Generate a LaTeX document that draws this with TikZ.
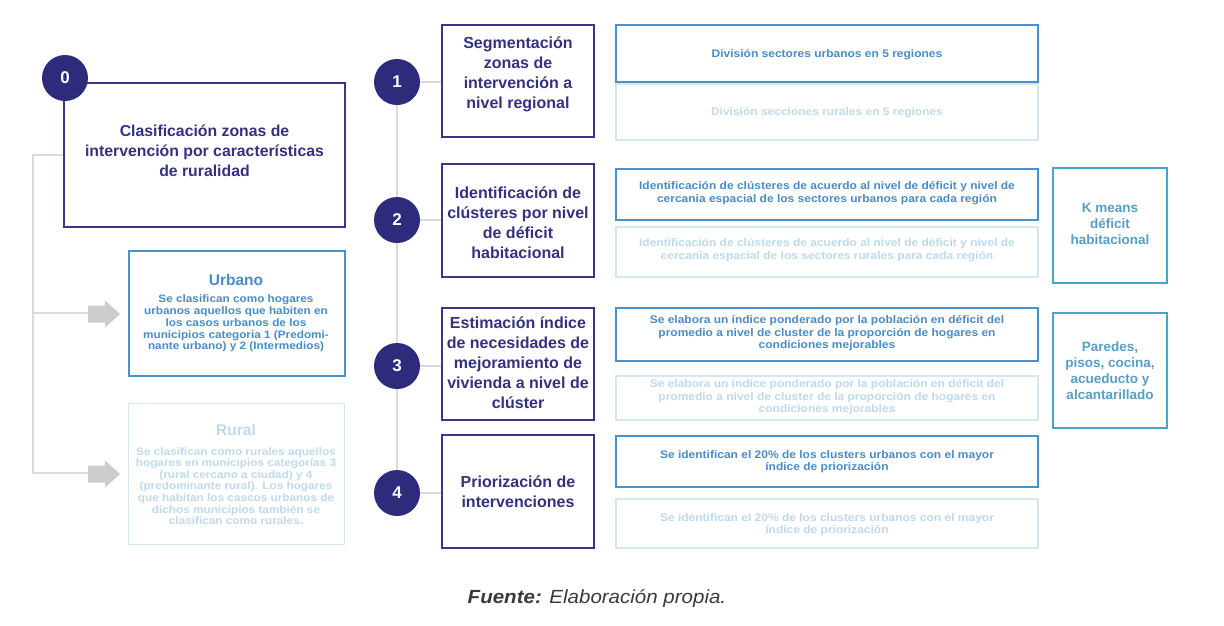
\documentclass[tikz,border=0pt]{standalone}
\usepackage{fontspec}
\setmainfont{Liberation Sans}
\newfontfamily\widefont[FakeStretch=1.09]{Liberation Sans}
\newfontfamily\capfont[FakeStretch=1.08]{Liberation Sans}
\usetikzlibrary{backgrounds}
\definecolor{navy}{HTML}{2E2B7D}
\definecolor{navyline}{HTML}{3A3787}
\definecolor{navytext}{HTML}{34317F}
\definecolor{gline}{HTML}{DADADA}
\definecolor{garrow}{HTML}{CCCCCC}
\definecolor{ublue}{HTML}{4A90CA}
\definecolor{utext}{HTML}{4A8CC6}
\definecolor{cbox}{HTML}{46A3CC}
\definecolor{ctext}{HTML}{5A9DC4}
\definecolor{lbox}{HTML}{D4E7F4}
\definecolor{ltext}{HTML}{BFD9EC}
\definecolor{captext}{HTML}{3A3A3A}
\begin{document}
\begin{tikzpicture}[x=1pt,y=-1pt,
  stepbox/.style={draw=navyline, line width=2.5pt, inner sep=0pt, minimum width=152, minimum height=112},
  steptext/.style={text=navytext, align=center, inner sep=0pt, font=\fontsize{16}{20}\selectfont\bfseries},
  numcirc/.style={circle, fill=navy, text=white, inner sep=0pt, minimum size=46, font=\fontsize{17}{20}\selectfont\bfseries},
  ubox/.style={draw=ublue, line width=2pt, inner sep=0pt, minimum width=422},
  lightbox/.style={draw=lbox, line width=1.6pt, inner sep=0pt, minimum width=422},
  utxt/.style={text=utext, align=center, inner sep=0pt, font=\widefont\fontsize{11}{13}\selectfont\bfseries},
  ltxt/.style={text=ltext, align=center, inner sep=0pt, font=\widefont\fontsize{11}{13}\selectfont\bfseries},
  sidebox/.style={draw=cbox, line width=2pt, inner sep=0pt, minimum width=114, minimum height=115},
  sidetxt/.style={text=ctext, align=center, inner sep=0pt, font=\fontsize{13.5}{16}\selectfont\bfseries},
  gconn/.style={draw=gline, line width=2pt}
]
\path[use as bounding box] (0,0) rectangle (1224,625);

% ---- step 0 ----
\node[draw=navyline, line width=2.5pt, inner sep=0pt, minimum width=281, minimum height=144] (b0) at (204.5,155) {};
\node[steptext, font=\fontsize{15.8}{20}\selectfont\bfseries] (t0) at (204.5,151) {Clasificación zonas de\\intervención por características\\de ruralidad};
\node[numcirc] (c0) at (65,78) {0};

% Urbano / Rural
\node[draw=ublue, line width=2pt, inner sep=0pt, minimum width=216, minimum height=125] (bu) at (236.5,313) {};
\node[text=utext, inner sep=0pt, font=\fontsize{15.5}{16}\selectfont\bfseries] (tu) at (236,280) {Urbano};
\node[text=utext, align=center, inner sep=0pt, font=\widefont\fontsize{10.8}{11.7}\selectfont\bfseries] (tub) at (236,323.5) {Se clasifican como hogares\\urbanos aquellos que habiten en\\los casos urbanos de los\\municipios categoria 1 (Predomi-\\nante urbano) y 2 (Intermedios)};

\node[draw=lbox, line width=1.6pt, inner sep=0pt, minimum width=216, minimum height=141] (br) at (236.5,474) {};
\node[text=ltext, inner sep=0pt, font=\fontsize{15.5}{16}\selectfont\bfseries] (tr) at (236,430) {Rural};
\node[text=ltext, align=center, inner sep=0pt, font=\widefont\fontsize{10.8}{11.6}\selectfont\bfseries] (trb) at (236,486) {Se clasifican como rurales aquellos\\hogares en municipios categorías 3\\(rural cercano a ciudad) y 4\\(predominante rural). Los hogares\\que habitan los cascos urbanos de\\dichos municipios también se\\clasifican como rurales.};

% arrows
\fill[garrow] (88,305.5) -- (105,305.5) -- (105,300.5) -- (120,314) -- (105,327.5) -- (105,322.5) -- (88,322.5) -- cycle;
\fill[garrow] (88,465.5) -- (105,465.5) -- (105,460.5) -- (120,474) -- (105,487.5) -- (105,482.5) -- (88,482.5) -- cycle;
\coordinate (tr0) at (33,155);
\coordinate (tr1) at (33,313);
\coordinate (tr2) at (33,473);
\coordinate (a1) at (88,313);
\coordinate (a2) at (88,473);

% ---- steps 1-4 ----
\node[stepbox] (b1) at (518,81) {};
\node[steptext] (t1) at (518,74) {Segmentación\\zonas de\\intervención a\\nivel regional};
\node[stepbox, minimum height=113] (b2) at (518,220.5) {};
\node[steptext] (t2) at (518,223) {Identificación de\\clústeres por nivel\\de déficit\\habitacional};
\node[stepbox] (b3) at (518,364) {};
\node[steptext] (t3) at (518,363) {Estimación índice\\de necesidades de\\mejoramiento de\\vivienda a nivel de\\clúster};
\node[stepbox, minimum height=113] (b4) at (518,491.5) {};
\node[steptext] (t4) at (518,492) {Priorización de\\intervenciones};

\node[numcirc] (c1) at (397,82) {1};
\node[numcirc] (c2) at (397,220) {2};
\node[numcirc] (c3) at (397,366) {3};
\node[numcirc] (c4) at (397,493) {4};

% ---- right column ----
\node[ubox, minimum height=57] (r1a) at (827,53.5) {};
\node[utxt] (s1a) at (827,55) {División sectores urbanos en 5 regiones};
\node[lightbox, minimum height=56] (r1b) at (827,112) {};
\node[ltxt] (s1b) at (827,113) {División secciones rurales en 5 regiones};

\node[ubox, minimum height=51] (r2a) at (827,194.5) {};
\node[utxt] (s2a) at (827,193.5) {Identificación de clústeres de acuerdo al nivel de déficit y nivel de\\cercania espacial de los sectores urbanos para cada región};
\node[lightbox, minimum height=50] (r2b) at (827,252) {};
\node[ltxt] (s2b) at (827,250.5) {Identificación de clústeres de acuerdo al nivel de déficit y nivel de\\cercania espacial de los sectores rurales para cada región};

\node[ubox, minimum height=53] (r3a) at (827,334.5) {};
\node[utxt, font=\widefont\fontsize{11}{12.5}\selectfont\bfseries] (s3a) at (827,333.5) {Se elabora un índice ponderado por la población en déficit del\\promedio a nivel de cluster de la proporción de hogares en\\condiciones mejorables};
\node[lightbox, minimum height=44] (r3b) at (827,398) {};
\node[ltxt, font=\widefont\fontsize{11}{12.5}\selectfont\bfseries] (s3b) at (827,397.5) {Se elabora un índice ponderado por la población en déficit del\\promedio a nivel de cluster de la proporción de hogares en\\condiciones mejorables};

\node[ubox, minimum height=51] (r4a) at (827,461.5) {};
\node[utxt, font=\widefont\fontsize{11}{12}\selectfont\bfseries] (s4a) at (827,462) {Se identifican el 20\% de los clusters urbanos con el mayor\\índice de priorización};
\node[lightbox, minimum height=49] (r4b) at (827,523.5) {};
\node[ltxt, font=\widefont\fontsize{11}{12}\selectfont\bfseries] (s4b) at (827,525) {Se identifican el 20\% de los clusters urbanos con el mayor\\índice de priorización};

% side boxes
\node[sidebox] (k1) at (1110,225.5) {};
\node[sidetxt] (k1t) at (1110,224) {K means\\déficit\\habitacional};
\node[sidebox] (k2) at (1110,370.5) {};
\node[sidetxt] (k2t) at (1110,371) {Paredes,\\pisos, cocina,\\acueducto y\\alcantarillado};

% caption
\node[text=captext, inner sep=0pt, font=\capfont\fontsize{19}{22}\selectfont] (cap) at (597,598) {\bfseries\itshape Fuente: \mdseries\itshape Elaboración propia.};

% ---- connectors behind ----
\begin{scope}[on background layer]
\fill[white] (0,0) rectangle (1224,625);
\draw[gconn] (b0.west) -- (tr0) -- (tr2) -- (a2);
\draw[gconn] (tr1) -- (a1);
\draw[gconn] (c1) -- (c4);
\draw[gconn] (c1) -- (b1.west |- c1);
\draw[gconn] (c2) -- (b2.west |- c2);
\draw[gconn] (c3) -- (b3.west |- c3);
\draw[gconn] (c4) -- (b4.west |- c4);
\end{scope}
\end{tikzpicture}
\end{document}
